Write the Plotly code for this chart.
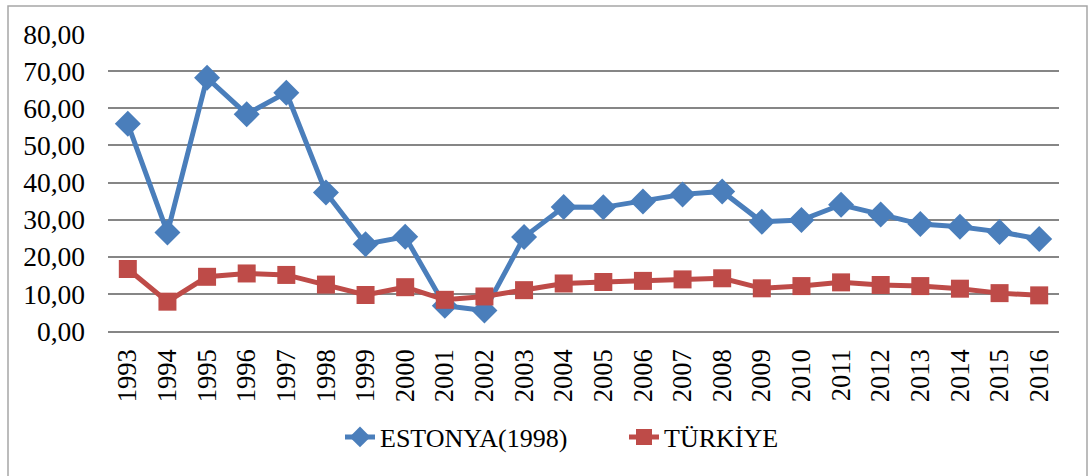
import plotly.graph_objects as go

years = [str(y) for y in range(1993, 2017)]
estonya = [55.8, 26.5, 68.2, 58.4, 64.2, 37.3, 23.4, 25.4, 6.8, 5.5, 25.3, 33.4,
           33.3, 34.9, 36.8, 37.6, 29.4, 29.9, 34.0, 31.4, 28.8, 28.1, 26.7, 24.8]
turkiye = [16.7, 7.9, 14.6, 15.5, 15.1, 12.5, 9.7, 11.8, 8.4, 9.3, 11.0, 12.8,
           13.2, 13.5, 13.9, 14.2, 11.5, 12.1, 13.1, 12.4, 12.1, 11.4, 10.2, 9.6]

W, H = 1088, 476
L, R, T, B = 108, 29, 34, 145
PW, PH = W - L - R, H - T - B

fig = go.Figure()
fig.add_trace(go.Scatter(
    x=years, y=estonya, name="ESTONYA(1998)", mode="lines+markers",
    line=dict(color="#4A7EBB", width=5),
    marker=dict(symbol="diamond", size=20, color="#4A7EBB"),
))
fig.add_trace(go.Scatter(
    x=years, y=turkiye, name="TÜRKİYE", mode="lines+markers",
    line=dict(color="#BE4B48", width=5),
    marker=dict(symbol="square", size=18, color="#BE4B48"),
))

# outer chart frame
fig.add_shape(type="rect", xref="paper", yref="paper",
              x0=(8 - L) / PW, x1=(1087 - L) / PW,
              y0=(H - B - 490) / PH, y1=(H - B - 6) / PH,
              line=dict(color="#A6A6A6", width=1.5), layer="below")

fig.update_layout(
    width=W, height=H,
    margin=dict(l=L, r=R, t=T, b=B),
    paper_bgcolor="white", plot_bgcolor="white",
    font=dict(family="Liberation Serif", size=26, color="black"),
    separators=",.",
    showlegend=True,
    legend=dict(orientation="h", x=(340 - L) / PW, xanchor="left",
                y=(H - B - 437) / PH, yanchor="middle",
                font=dict(size=26), entrywidth=239, entrywidthmode="pixels",
                tracegroupgap=0),
    xaxis=dict(type="category", tickangle=-90, showgrid=False,
               showline=True, linecolor="#868686", linewidth=1.5,
               ticks="", ticklabelstandoff=6, range=[-0.5, 23.5],
               tickfont=dict(size=26.5)),
    yaxis=dict(range=[0, 80], dtick=10, tickformat=".2f",
               showgrid=True, gridcolor="#868686", gridwidth=1.5,
               zeroline=True, zerolinecolor="#868686", zerolinewidth=1.5,
               ticks="", ticklabelstandoff=22, tickfont=dict(size=27.5)),
)

fig.write_html("out.html")
